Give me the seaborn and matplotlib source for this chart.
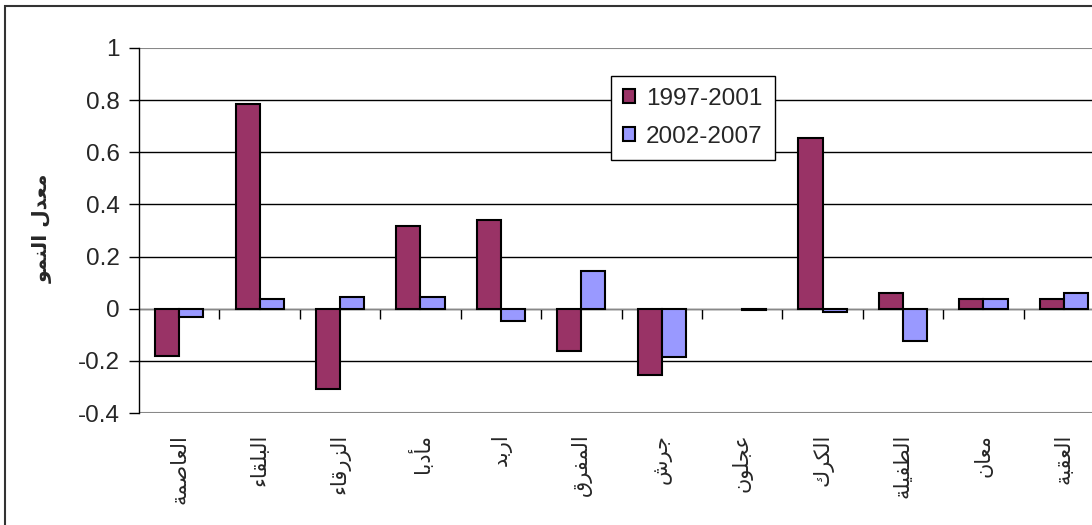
import matplotlib
matplotlib.use('Agg')
import matplotlib.pyplot as plt
from matplotlib.patches import Patch, Rectangle
from matplotlib.ticker import FixedLocator, NullFormatter
import pandas as pd
import seaborn as sns

# Data (no bar for عجلون in the first period)
governorates = ['العاصمة', 'البلقاء', 'الزرقاء', 'مأدبا', 'اربد', 'المفرق',
                'جرش', 'عجلون', 'الكرك', 'الطفيلة', 'معان', 'العقبة']
growth_1997_2001 = [-0.18, 0.785, -0.307, 0.318, 0.34, -0.161,
                    -0.256, None, 0.655, 0.061, 0.038, 0.038]
growth_2002_2007 = [-0.03, 0.038, 0.046, 0.046, -0.046, 0.146,
                    -0.185, -0.005, -0.014, -0.123, 0.038, 0.061]
periods = ['1997-2001', '2002-2007']
y_ticks = [-0.4, -0.2, 0, 0.2, 0.4, 0.6, 0.8, 1]
y_label = 'معدل النمو'

colors = ['#993366', '#9999FF']

# matplotlib has no Arabic shaping, so pick the presentation forms by hand
forms = {'ا': (0xFE8D, 'R'), 'أ': (0xFE83, 'R'), 'ب': (0xFE8F, 'D'),
         'ة': (0xFE93, 'R'), 'ج': (0xFE9D, 'D'), 'د': (0xFEA9, 'R'),
         'ر': (0xFEAD, 'R'), 'ز': (0xFEAF, 'R'), 'ش': (0xFEB5, 'D'),
         'ص': (0xFEB9, 'D'), 'ط': (0xFEC1, 'D'), 'ع': (0xFEC9, 'D'),
         'ف': (0xFED1, 'D'), 'ق': (0xFED5, 'D'), 'ك': (0xFED9, 'D'),
         'ل': (0xFEDD, 'D'), 'م': (0xFEE1, 'D'), 'ن': (0xFEE5, 'D'),
         'و': (0xFEED, 'R'), 'ي': (0xFEF1, 'D'), 'ء': (0xFE80, 'U')}


def shape(text):
    out = []
    for i, ch in enumerate(text):
        if ch not in forms:
            out.append(ch)
            continue
        base, kind = forms[ch]
        prev = text[i - 1] if i > 0 else ''
        nxt = text[i + 1] if i + 1 < len(text) else ''
        join_prev = kind != 'U' and prev in forms and forms[prev][1] == 'D'
        join_next = kind == 'D' and nxt in forms and forms[nxt][1] != 'U'
        if join_prev and join_next:
            out.append(chr(base + 3))
        elif join_next:
            out.append(chr(base + 2))
        elif join_prev:
            out.append(chr(base + 1))
        else:
            out.append(chr(base))
    return ''.join(reversed(out))


df = pd.DataFrame({
    'governorate': governorates * 2,
    'period': [periods[0]] * len(governorates) + [periods[1]] * len(governorates),
    'growth': growth_1997_2001 + growth_2002_2007,
})
df['growth'] = df['growth'].astype(float)

sns.set_style('white')
plt.rcParams['font.family'] = ['Liberation Sans', 'DejaVu Sans']

fig = plt.figure(figsize=(10.92, 5.25), dpi=100)
ax = fig.add_axes([0.1273, 0.2133, 0.8837, 0.6953])

sns.barplot(data=df, x='governorate', y='growth', hue='period',
            palette=colors, saturation=1, width=0.6, edgecolor='black',
            linewidth=1.5, legend=False, ax=ax, zorder=3)

ax.set_xlim(-0.5, len(governorates) - 0.5)
ax.set_ylim(y_ticks[0], y_ticks[-1])
ax.set_yticks(y_ticks)
ax.set_yticklabels(['%g' % v for v in y_ticks], fontsize=17.5)
ax.tick_params(axis='y', direction='out', length=7, width=1, color='black', pad=7, left=True)

# horizontal gridlines: black inside, grey at the plot-area border
ax.yaxis.grid(True, color='black', linewidth=1)
for loc, line in zip(y_ticks, ax.get_ygridlines()):
    if loc in (y_ticks[0], y_ticks[-1]):
        line.set_color('#888888')
        line.set_linewidth(1.5)
ax.set_axisbelow(True)

# category axis crosses at zero, labels sit below the plot area
ax.spines['bottom'].set_position(('data', 0))
ax.spines['bottom'].set_color('#888888')
ax.spines['bottom'].set_zorder(2)
ax.spines['top'].set_visible(False)
ax.spines['right'].set_visible(False)
ax.spines['left'].set_color('black')
ax.spines['left'].set_linewidth(1)
ax.set_xticks(range(len(governorates)))
ax.set_xticklabels([shape(g) for g in governorates], rotation=90,
                   family=['DejaVu Sans'], fontsize=15)
ax.xaxis.set_minor_locator(FixedLocator([i + 0.5 for i in range(len(governorates) - 1)]))
ax.xaxis.set_minor_formatter(NullFormatter())
ax.tick_params(axis='x', which='major', length=0, pad=90, bottom=True)
ax.tick_params(axis='x', which='minor', direction='out', length=7, width=1,
               color='black', bottom=True)

ax.set_xlabel('')
ax.set_ylabel(shape(y_label), family=['DejaVu Sans'], fontsize=14.5, fontweight='bold')
ax.yaxis.set_label_coords(-0.089, 0.507)

handles = [Patch(facecolor=c, edgecolor='black', linewidth=1.5) for c in colors]
leg = ax.legend(handles, periods, loc='upper left', bbox_to_anchor=(0.489, 0.924),
                fontsize=17.5, frameon=True, fancybox=False, framealpha=1,
                edgecolor='black', handlelength=0.5, handleheight=0.5,
                handletextpad=0.45, labelspacing=0.65, borderpad=0.5,
                borderaxespad=0)
leg.get_frame().set_linewidth(1)

# outer chart border (cut off at right and bottom, as in the original)
fig.patches.append(Rectangle((0.0046, -0.1), 1.2, 1.0895, transform=fig.transFigure,
                             fill=False, edgecolor='#333333', linewidth=1.5))

fig.savefig('out.png', dpi=100)
